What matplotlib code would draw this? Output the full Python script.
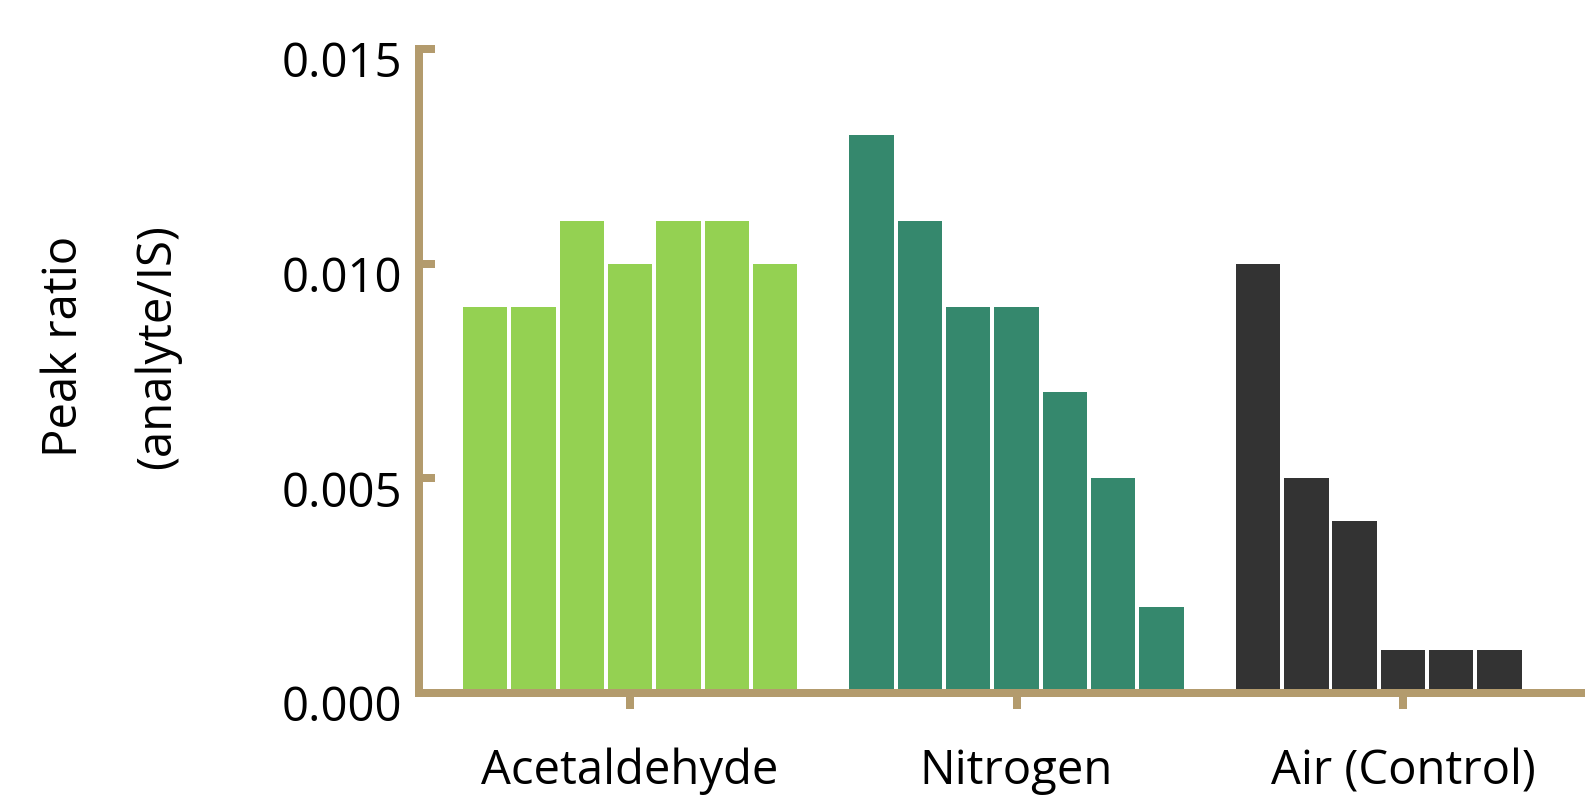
import matplotlib
matplotlib.use("Agg")
import matplotlib.pyplot as plt
from matplotlib.transforms import ScaledTranslation

# data
groups = ["Acetaldehyde", "Nitrogen", "Air (Control)"]
acetaldehyde = [0.009, 0.009, 0.011, 0.010, 0.011, 0.011, 0.010]
nitrogen = [0.013, 0.011, 0.009, 0.009, 0.007, 0.005, 0.002]
air_control = [0.010, 0.005, 0.004, 0.001, 0.001, 0.001]
yticks = [0.000, 0.005, 0.010, 0.015]
ytick_labels = ["0.000", "0.005", "0.010", "0.015"]

colors = ["#94d152", "#35886d", "#333333"]
axis_color = "#b39b6d"
slots = 7      # bar slots per group
gap = 1        # empty slots between groups

plt.rcParams["font.family"] = ["Open Sans", "DejaVu Sans"]

fig = plt.figure(figsize=(15.85, 8.03), dpi=100)
ax = fig.add_axes([0.2644, 0.1357, 0.7338, 0.802])

for g, vals in enumerate([acetaldehyde, nitrogen, air_control]):
    start = g * (slots + gap)
    xs = [start + i for i in range(len(vals))]
    ax.bar(xs, vals, width=0.92, color=colors[g], edgecolor="none")

centers = [g * (slots + gap) + (slots - 1) / 2 for g in range(len(groups))]
ax.set_xticks(centers)
ax.set_xticklabels(groups, fontsize=34)
ax.set_yticks(yticks)
ax.set_yticklabels(ytick_labels, fontsize=34)

ax.set_xlim(-1.37, 22.71)
ax.set_ylim(0, 0.015)

for side in ["top", "right"]:
    ax.spines[side].set_visible(False)
for side in ["left", "bottom"]:
    ax.spines[side].set_color(axis_color)
    ax.spines[side].set_linewidth(5.76)
    ax.spines[side].set_capstyle("projecting")

ax.tick_params(axis="y", direction="in", length=11.5, width=5.76,
               color=axis_color, pad=12)
ax.tick_params(axis="x", direction="out", length=11.5, width=5.76,
               color=axis_color, pad=27)

# labels sit slightly below their ticks in the original
shift = ScaledTranslation(0, -0.09, fig.dpi_scale_trans)
for lab in ax.get_yticklabels():
    lab.set_transform(lab.get_transform() + shift)

ax.set_ylabel("Peak ratio\n(analyte/IS)", fontsize=34, linespacing=2.25,
              va="center")
ax.yaxis.set_label_coords(-0.265, 0.54)

fig.savefig("out.png", dpi=100)
